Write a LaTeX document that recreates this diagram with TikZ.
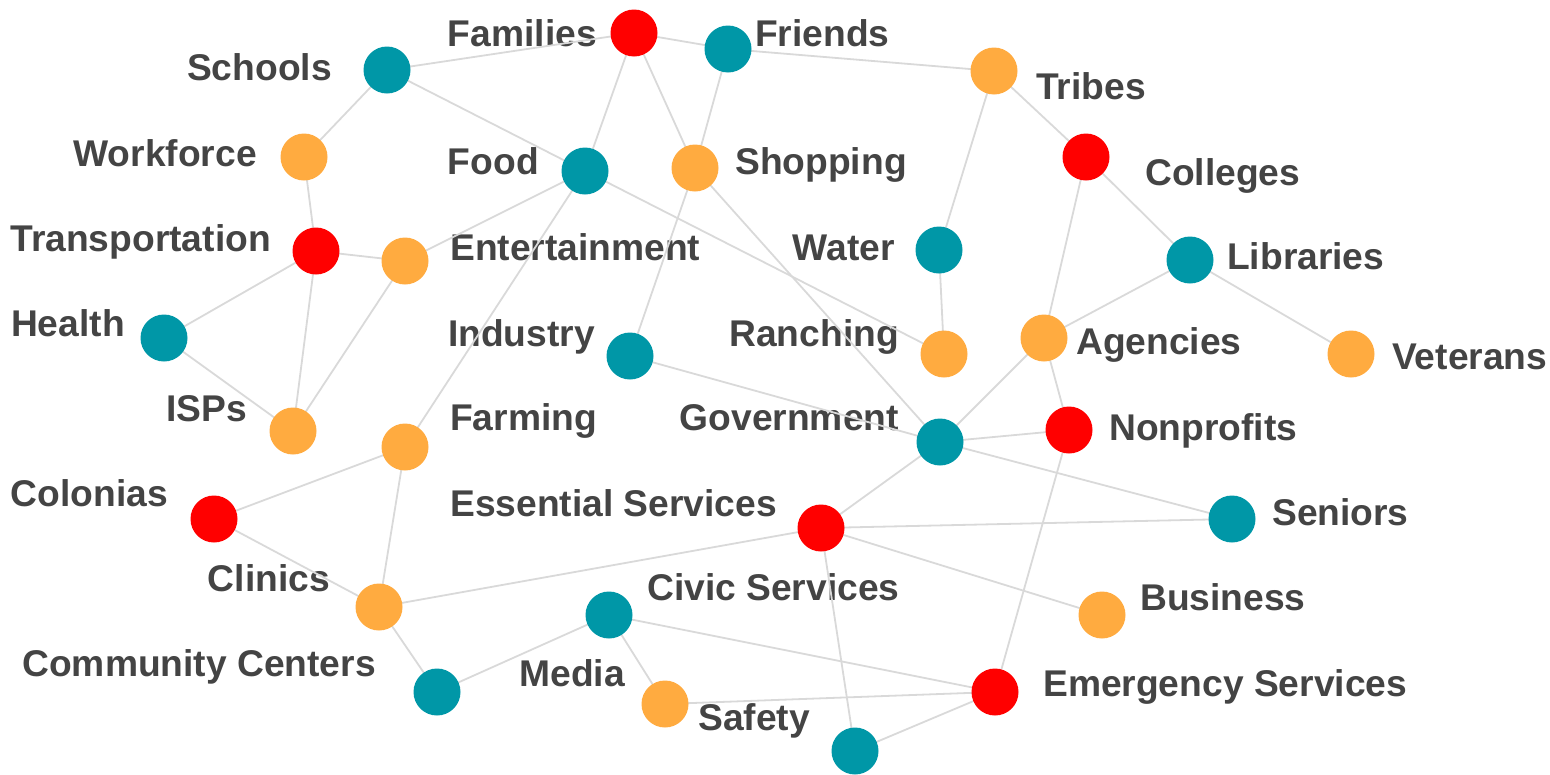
\documentclass[tikz,border=0pt]{standalone}
\usepackage{fontspec}
\setmainfont{Liberation Sans}
\definecolor{cred}{HTML}{FF0000}
\definecolor{cteal}{HTML}{0097A7}
\definecolor{corange}{HTML}{FFAB40}
\definecolor{ctext}{HTML}{444444}
\definecolor{cedge}{HTML}{D9D9D9}
\begin{document}
\begin{tikzpicture}[x=1pt,y=-1pt,
  dot/.style={circle,minimum size=47pt,inner sep=0pt,draw=none},
  rd/.style={dot,fill=cred},
  tl/.style={dot,fill=cteal},
  og/.style={dot,fill=corange},
  lbl/.style={inner sep=0pt,text=ctext,font=\fontsize{37.2}{40}\selectfont\bfseries},
  lw/.style={lbl,anchor=base west},
  le/.style={lbl,anchor=base east},
  edge/.style={draw=cedge,line width=1.8pt}]
\useasboundingbox (0,0) rectangle (1550,774);
% labels
\node[le] (lfam) at (597,46) {Families};
\node[lw] (lfri) at (755,46) {Friends};
\node[le] (lsch) at (332,80) {Schools};
\node[lw] (ltrib) at (1036,99) {Tribes};
\node[le] (lwork) at (257,166) {Workforce};
\node[le] (lfood) at (539,174) {Food};
\node[lw] (lshop) at (735,174) {Shopping};
\node[lw] (lcoll) at (1145,185) {Colleges};
\node[le] (ltrans) at (271,251) {Transportation};
\node[lw] (lent) at (450,260) {Entertainment};
\node[le] (lwater) at (895,260) {Water};
\node[lw] (llib) at (1227,269) {Libraries};
\node[le] (lhealth) at (125,336) {Health};
\node[le] (lind) at (595,346) {Industry};
\node[le] (lranch) at (899,346) {Ranching};
\node[lw] (lagen) at (1076,354) {Agencies};
\node[lw] (lvet) at (1392,369) {Veterans};
\node[le] (lisp) at (247,421) {ISPs};
\node[lw] (lfarm) at (450,430) {Farming};
\node[le] (lgov) at (899,430) {Government};
\node[lw] (lnonp) at (1109,440) {Nonprofits};
\node[le] (lcol) at (168,506) {Colonias};
\node[lw] (less) at (450,516) {Essential Services};
\node[lw] (lsen) at (1272,525) {Seniors};
\node[le] (lclin) at (330,591) {Clinics};
\node[lw] (lciv) at (647,600) {Civic Services};
\node[lw] (lbus) at (1140,610) {Business};
\node[le] (lcomm) at (376,676) {Community Centers};
\node[le] (lmedia) at (625,686) {Media};
\node[lw] (lemer) at (1043,696) {Emergency Services};
\node[lw] (lsaf) at (698,730) {Safety};
% node positions
\coordinate (fam) at (634,33);
\coordinate (fri) at (728,49);
\coordinate (sch) at (387,70);
\coordinate (trib) at (994,71);
\coordinate (work) at (304,157);
\coordinate (food) at (585,171);
\coordinate (shop) at (695,168);
\coordinate (coll) at (1086,157);
\coordinate (trans) at (316,251);
\coordinate (ent) at (405,261);
\coordinate (water) at (939,250);
\coordinate (lib) at (1190,260);
\coordinate (health) at (164,338);
\coordinate (ind) at (630,356);
\coordinate (ranch) at (944,354);
\coordinate (agen) at (1044,338);
\coordinate (vet) at (1351,354);
\coordinate (isp) at (293,431);
\coordinate (farm) at (405,447);
\coordinate (gov) at (940,442);
\coordinate (nonp) at (1069,430);
\coordinate (col) at (214,519);
\coordinate (ess) at (821,528);
\coordinate (sen) at (1232,519);
\coordinate (clin) at (379,607);
\coordinate (civ) at (609,615);
\coordinate (bus) at (1102,615);
\coordinate (comm) at (437,692);
\coordinate (media) at (665,704);
\coordinate (emer) at (995,692);
\coordinate (saf) at (855,751);
% edges
\foreach \a/\b in {fam/sch,fam/fri,fam/food,fam/shop,sch/work,sch/food,fri/trib,fri/shop,
  trib/water,trib/coll,coll/lib,coll/agen,work/trans,trans/ent,trans/health,trans/isp,
  food/ent,food/farm,food/ranch,shop/ind,shop/gov,water/ranch,lib/agen,lib/vet,ent/isp,
  health/isp,ind/gov,agen/gov,agen/nonp,gov/nonp,gov/ess,gov/sen,farm/col,farm/clin,
  col/clin,ess/sen,ess/clin,ess/bus,ess/saf,nonp/emer,clin/comm,civ/comm,civ/media,
  civ/emer,media/emer,emer/saf}
  \draw[edge] (\a) -- (\b);
% nodes on top
\foreach \n/\s in {fam/rd,fri/tl,sch/tl,trib/og,work/og,food/tl,shop/og,coll/rd,trans/rd,ent/og,
  water/tl,lib/tl,health/tl,ind/tl,ranch/og,agen/og,vet/og,isp/og,farm/og,gov/tl,nonp/rd,
  col/rd,ess/rd,sen/tl,clin/og,civ/tl,bus/og,comm/tl,media/og,emer/rd,saf/tl}
  \node[\s] (n\n) at (\n) {};
\end{tikzpicture}
\end{document}
